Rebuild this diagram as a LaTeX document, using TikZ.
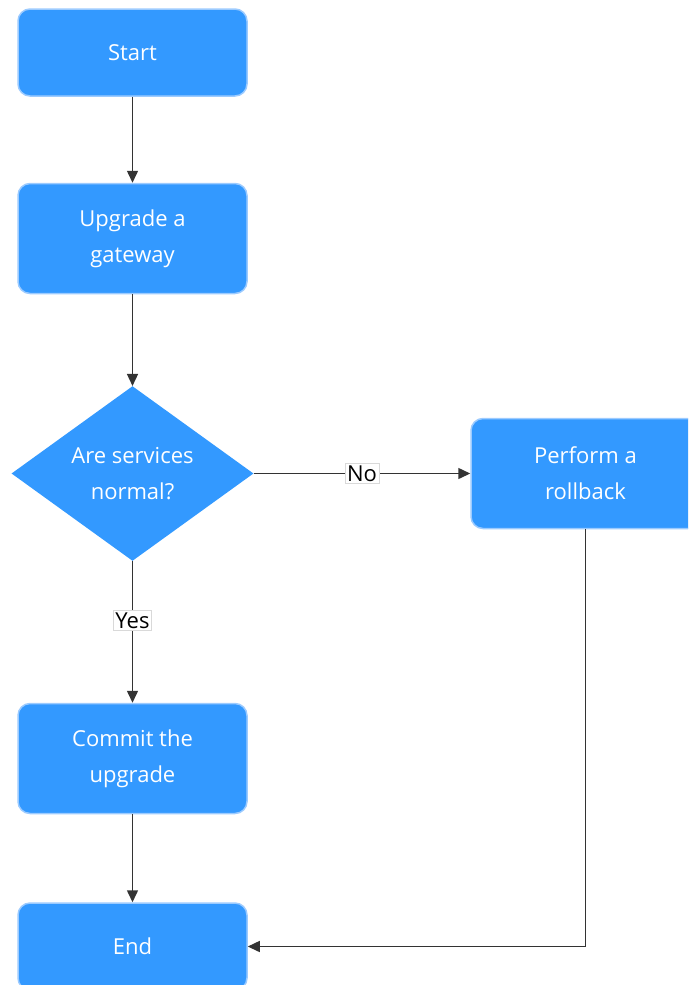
\documentclass[tikz,border=0pt]{standalone}
\usepackage{fontspec}
\setmainfont{Open Sans}
\usetikzlibrary{shapes.geometric,arrows.meta}
\definecolor{stepblue}{HTML}{3399FF}
\definecolor{stepedge}{HTML}{9CCBFF}
\definecolor{linegray}{HTML}{333333}
\begin{document}
\begin{tikzpicture}[
  x=1pt, y=-1pt,
  stepbox/.style={rectangle, draw=stepedge, line width=1.5pt, fill=stepblue, rounded corners=12pt, minimum width=229pt, minimum height=110pt, align=center, text=white, font=\fontsize{22}{36}\selectfont},
  decision/.style={diamond, fill=stepblue, inner sep=0pt, minimum width=242pt, minimum height=163pt, align=center, text=white, font=\fontsize{22}{36}\selectfont},
  arrow/.style={-{Triangle[length=12pt,width=11pt]}, draw=linegray, line width=1.5pt},
  tag/.style={fill=white, draw=black!15, line width=0.6pt, inner sep=2pt, text=black, font=\fontsize{22}{24}\selectfont}
]
  \clip (0,0) rectangle (688,985);
  \useasboundingbox (0,0) rectangle (688,985);

  % Main column
  \node[stepbox, minimum height=87pt] (start) at (132.5,52.5) {Start};
  \node[stepbox] (upgrade) at (132.5,238.5) {Upgrade a\\gateway};
  \node[decision] (check) at (132.5,473.5) {Are services\\normal?};
  \node[stepbox] (commit) at (132.5,758.5) {Commit the\\upgrade};
  \node[stepbox, minimum height=87pt] (finish) at (132.5,946.5) {End};

  % Rollback branch
  \node[stepbox] (rollback) at (585.5,473.5) {Perform a\\rollback};
  \coordinate (turn) at (585.5,946.5);

  % Connectors
  \draw[arrow] (start) -- (upgrade);
  \draw[arrow] (upgrade) -- (check);
  \draw[arrow] (check.east) -- node[tag] {No} (rollback.west);
  \draw[arrow] (check.south) -- node[tag, pos=0.42] {Yes} (commit.north);
  \draw[arrow] (commit) -- (finish);
  \draw[arrow] (rollback.south) -- (turn) -- (finish.east);
\end{tikzpicture}
\end{document}
